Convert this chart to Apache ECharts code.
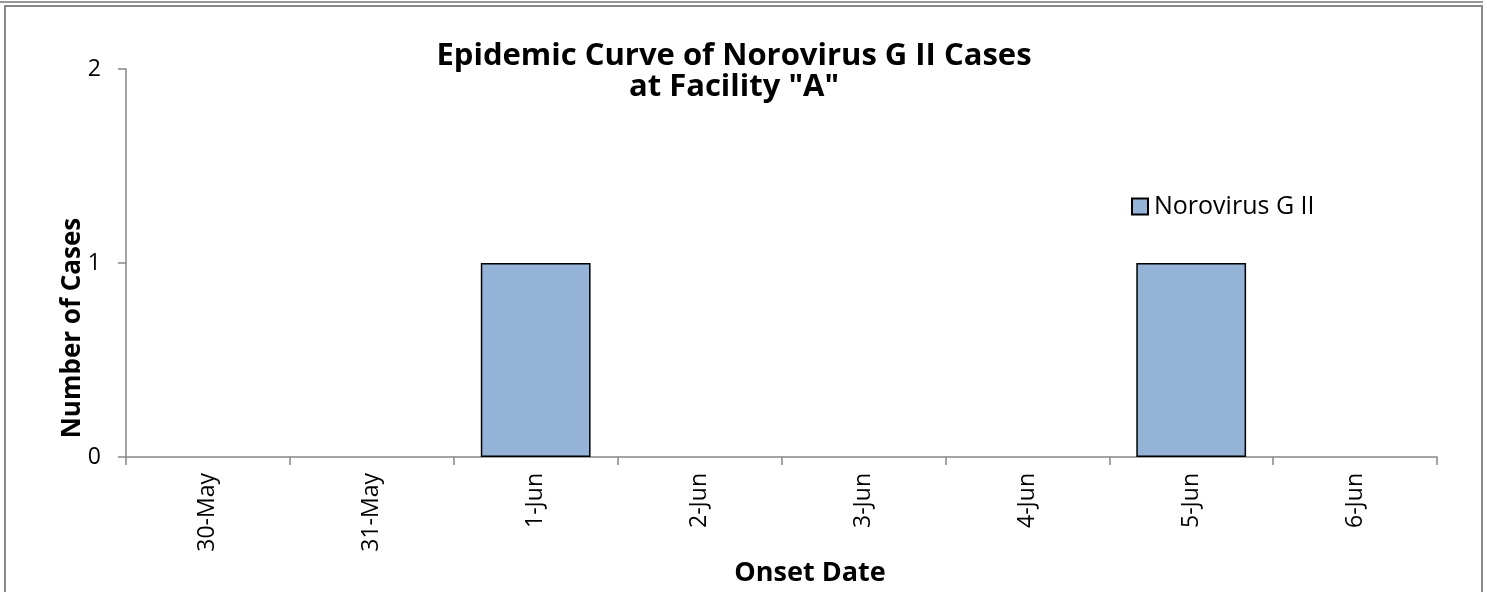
<!DOCTYPE html>
<html>
<head>
<meta charset="utf-8">
<script src="https://cdn.jsdelivr.net/npm/echarts@6/dist/echarts.min.js"></script>
<style>
  html, body { margin: 0; padding: 0; background: #fff; }
  #chart { width: 1487px; height: 592px; }
</style>
</head>
<body>
<div id="chart"></div>
<script>
const onsetDates = ['30-May', '31-May', '1-Jun', '2-Jun', '3-Jun', '4-Jun', '5-Jun', '6-Jun'];
const noroCases = [0, 0, 1, 0, 0, 0, 1, 0];
const yTicks = [0, 1, 2];

const font = '"Open Sans", sans-serif';
const axisGray = '#868686';

const chart = echarts.init(document.getElementById('chart'));
chart.setOption({
  animation: false,
  title: {
    text: 'Epidemic Curve of Norovirus G II Cases\nat Facility "A"',
    left: 729,
    top: 36,
    textAlign: 'center',
    textStyle: {
      fontFamily: font,
      fontWeight: 'bold',
      fontSize: 31,
      lineHeight: 31,
      color: '#000'
    }
  },
  legend: {
    left: 1131,
    top: 194,
    padding: 0,
    itemWidth: 16,
    itemHeight: 16,
    itemGap: 6,
    icon: 'rect',
    textStyle: { fontFamily: font, fontSize: 25, color: '#000', padding: [0, 0, 0, 1] },
    data: ['Norovirus G II']
  },
  grid: { left: 126, right: 50, top: 69, bottom: 135, containLabel: false, outerBoundsMode: 'none' },
  xAxis: {
    type: 'category',
    data: onsetDates,
    boundaryGap: true,
    name: 'Onset Date',
    nameLocation: 'middle',
    nameGap: 94,
    nameTextStyle: { fontFamily: font, fontWeight: 'bold', fontSize: 27, color: '#000', padding: [0, 0, 0, 57] },
    axisLine: { lineStyle: { color: axisGray, width: 1.5 } },
    axisTick: { show: true, length: 8, lineStyle: { color: axisGray, width: 1.5 } },
    axisLabel: { rotate: 90, margin: 16, fontFamily: font, fontSize: 23, color: '#000' },
    splitLine: { show: false }
  },
  yAxis: {
    type: 'value',
    min: yTicks[0],
    max: yTicks[yTicks.length - 1],
    interval: 1,
    axisLine: { show: true, lineStyle: { color: axisGray, width: 1.5 } },
    axisTick: { show: true, length: 8, lineStyle: { color: axisGray, width: 1.5 } },
    axisLabel: { margin: 25, fontFamily: font, fontSize: 23, color: '#000' },
    splitLine: { show: false }
  },
  graphic: [
    { type: 'line', shape: { x1: 0, y1: 2, x2: 1483, y2: 2 }, style: { stroke: '#999', lineWidth: 2 } },
    { type: 'rect', shape: { x: 5, y: 6, width: 1477, height: 620 }, style: { fill: 'none', stroke: '#888', lineWidth: 2 } },
    {
      type: 'text',
      x: 73, y: 328,
      rotation: Math.PI / 2,
      style: {
        text: 'Number of Cases',
        fontFamily: font, fontWeight: 'bold', fontSize: 26,
        fill: '#000', align: 'center', verticalAlign: 'middle'
      }
    }
  ],
  series: [{
    name: 'Norovirus G II',
    type: 'bar',
    // empty days get no bar at all, as in the original
    data: noroCases.map(v => (v === 0 ? '-' : v)),
    barCategoryGap: '33%',
    itemStyle: { color: '#95B3D7', borderColor: '#000', borderWidth: 1.5 }
  }]
});
</script>
</body>
</html>
